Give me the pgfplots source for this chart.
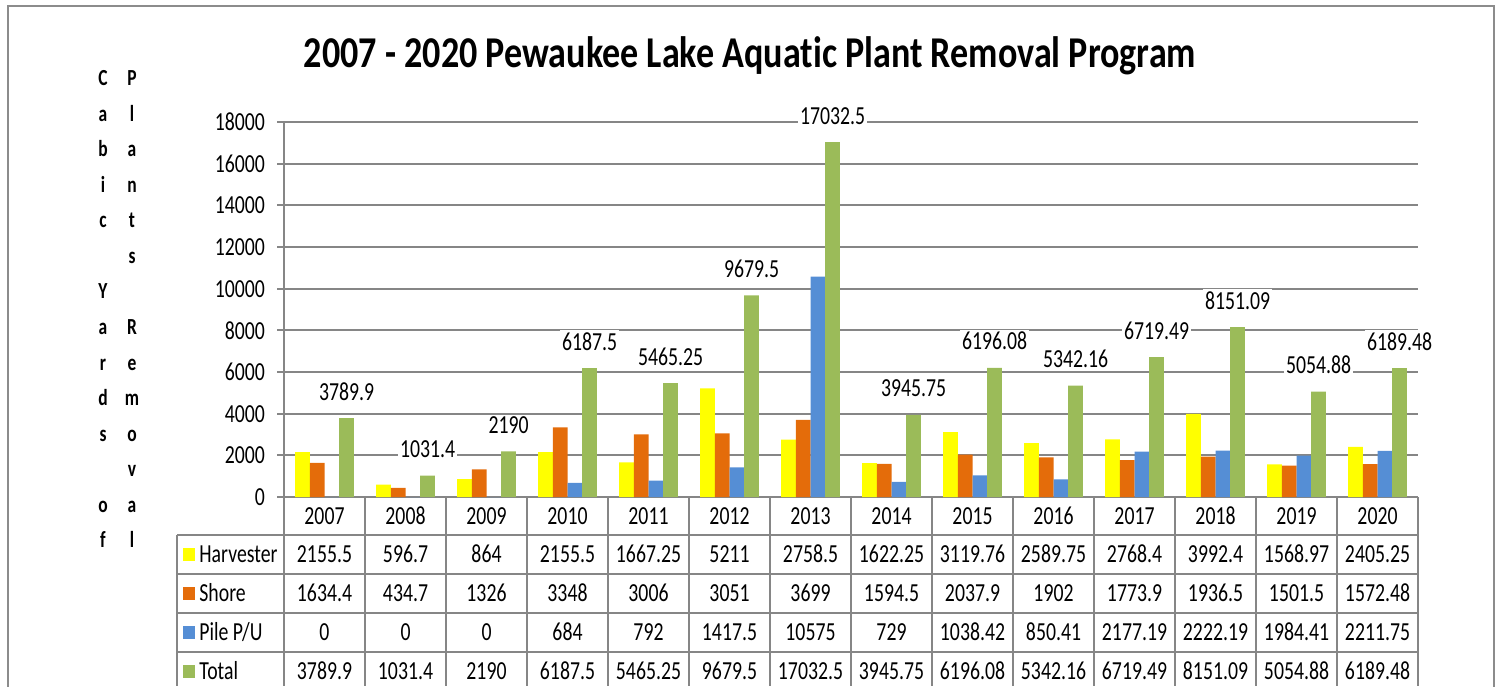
\documentclass[border=0pt]{standalone}
\usepackage{pgfplots}
\pgfplotsset{compat=1.18}
\usepackage{pgfplotstable}
\usepackage{fontspec}
\setmainfont{Carlito}[FakeStretch=0.76,Ligatures=CommonOff]
\newfontfamily\titlefont{Carlito}[FakeStretch=0.82,Ligatures=CommonOff]
\definecolor{cyellow}{HTML}{FFFF00}
\definecolor{corange}{HTML}{E46C0A}
\definecolor{cblue}{HTML}{558ED5}
\definecolor{cgreen}{HTML}{9BBB59}
\definecolor{gridgray}{HTML}{868686}
\definecolor{framegray}{HTML}{8C8C8C}
\newcommand\tfont{\fontsize{13}{15}\selectfont}

\pgfplotstableread{
i Year Harvester Shore Pile Total
0 2007 2155.5 1634.4 0 3789.9
1 2008 596.7 434.7 0 1031.4
2 2009 864 1326 0 2190
3 2010 2155.5 3348 684 6187.5
4 2011 1667.25 3006 792 5465.25
5 2012 5211 3051 1417.5 9679.5
6 2013 2758.5 3699 10575 17032.5
7 2014 1622.25 1594.5 729 3945.75
8 2015 3119.76 2037.9 1038.42 6196.08
9 2016 2589.75 1902 850.41 5342.16
10 2017 2768.4 1773.9 2177.19 6719.49
11 2018 3992.4 1936.5 2222.19 8151.09
12 2019 1568.97 1501.5 1984.41 5054.88
13 2020 2405.25 1572.48 2211.75 6189.48
}\data

\begin{document}
\begin{tikzpicture}[x=0.5pt,y=0.5pt]
\useasboundingbox (0,0) rectangle (1497,686);
\clip (0,0) rectangle (1497,686);
\draw[framegray, line width=1pt] (8,-20) rectangle (1494,680);

% title
\node[anchor=base, inner sep=0, font=\titlefont\fontsize{22}{26}\selectfont\bfseries] at (750,618)
  {2007 - 2020 Pewaukee Lake Aquatic Plant Removal Program};

% vertical y-axis titles
\foreach \c [count=\k from 0] in {C,a,b,i,c,{},Y,a,r,d,s,{},o,f}
  \node[anchor=base, inner sep=0, font=\fontsize{11.5}{13}\selectfont\bfseries] at (103,{600-35.5*\k}) {\c};
\foreach \c [count=\k from 0] in {P,l,a,n,t,s,{},R,e,m,o,v,a,l}
  \node[anchor=base, inner sep=0, font=\fontsize{11.5}{13}\selectfont\bfseries] at (132,{600-35.5*\k}) {\c};

\begin{axis}[
  at={(142pt,94.5pt)}, anchor=south west,
  scale only axis, width=567pt, height=187.5pt,
  xmin=-0.5, xmax=13.5, ymin=0, ymax=18000,
  axis x line=none, axis y line=left,
  axis line style={-, draw=gridgray, line width=1pt},
  ytick={0,2000,...,18000},
  scaled y ticks=false,
  ymajorgrids, major grid style={draw=gridgray, line width=1pt},
  tick align=outside, major tick length=3.5pt,
  ytick style={draw=gridgray, line width=1pt},
  yticklabel style={font=\tfont, text=black, xshift=-2.5pt},
  /pgf/number format/assume math mode=true,
  /pgf/number format/1000 sep={},
  ybar=0pt, bar width=7.35pt,
  clip=false,
]
\addplot[fill=cyellow, draw=none] table[x=i,y=Harvester]{\data};
\addplot[fill=corange, draw=none] table[x=i,y=Shore]{\data};
\addplot[fill=cblue, draw=none] table[x=i,y=Pile]{\data};
\addplot[fill=cgreen, draw=none, nodes near coords, point meta=explicit symbolic,
  every node near coord/.append style={font=\tfont, text=black, anchor=base, yshift=9pt, inner sep=1pt, fill=white}]
  table[x=i,y=Total,meta=Total]{\data};
\end{axis}

% data table lines
\begin{scope}[draw=gridgray, line width=1pt]
\foreach \yy in {151,112,73,34} \draw (177,\yy) -- (1418,\yy);
\draw (177,151) -- (177,0);
\foreach \k in {0,...,14} \draw ({284+81*\k},189) -- ({284+81*\k},0);
\end{scope}

% legend keys and row names
\fill[cyellow] (183,125) rectangle (195,138);
\fill[corange] (183,86) rectangle (195,99);
\fill[cblue] (183,47) rectangle (195,60);
\fill[cgreen] (183,8) rectangle (195,21);
\node[anchor=base west, inner sep=0, font=\tfont] at (199,123.25) {Harvester};
\node[anchor=base west, inner sep=0, font=\tfont] at (199,84.25) {Shore};
\node[anchor=base west, inner sep=0, font=\tfont] at (199,45.25) {Pile P/U};
\node[anchor=base west, inner sep=0, font=\tfont] at (199,6.25) {Total};

% table values
\foreach \r in {0,...,13}{
  \pgfmathsetmacro\cx{324.5+81*\r}
  \pgfplotstablegetelem{\r}{Year}\of\data
  \node[anchor=base, inner sep=0, font=\tfont] at (\cx,161.75) {\pgfplotsretval};
  \pgfplotstablegetelem{\r}{Harvester}\of\data
  \node[anchor=base, inner sep=0, font=\tfont] at (\cx,123.25) {\pgfplotsretval};
  \pgfplotstablegetelem{\r}{Shore}\of\data
  \node[anchor=base, inner sep=0, font=\tfont] at (\cx,84.25) {\pgfplotsretval};
  \pgfplotstablegetelem{\r}{Pile}\of\data
  \node[anchor=base, inner sep=0, font=\tfont] at (\cx,45.25) {\pgfplotsretval};
  \pgfplotstablegetelem{\r}{Total}\of\data
  \node[anchor=base, inner sep=0, font=\tfont] at (\cx,6.25) {\pgfplotsretval};
}
\end{tikzpicture}
\end{document}
